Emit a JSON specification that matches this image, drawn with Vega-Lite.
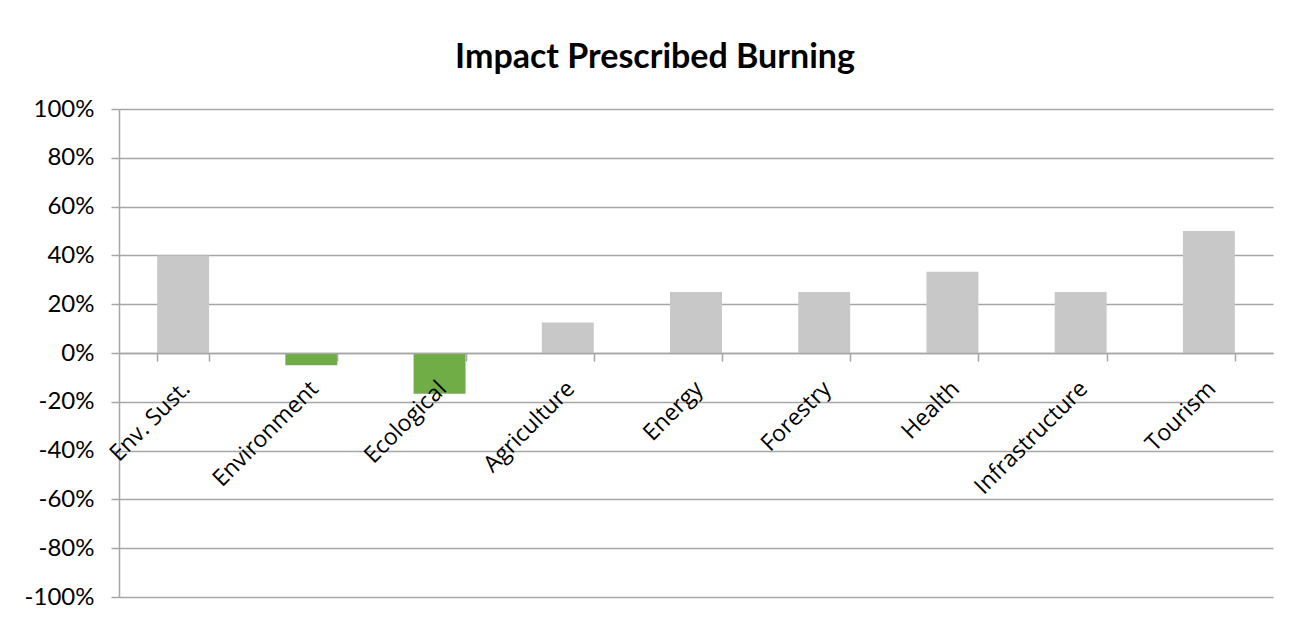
{
  "$schema": "https://vega.github.io/schema/vega-lite/v6.json",
  "width": 1154,
  "height": 488,
  "autosize": {"type": "none"},
  "padding": {"left": 119, "top": 109, "right": 35, "bottom": 21},
  "background": "white",
  "title": {
    "text": "Impact Prescribed Burning",
    "font": "Lato",
    "fontSize": 34,
    "fontWeight": "bold",
    "color": "#000000",
    "anchor": "middle",
    "dx": -41,
    "baseline": "alphabetic",
    "offset": -5
  },
  "data": {
    "values": [
      {"sector": "Env. Sust.", "impact": 0.40},
      {"sector": "Environment", "impact": -0.05},
      {"sector": "Ecological", "impact": -0.1667},
      {"sector": "Agriculture", "impact": 0.125},
      {"sector": "Energy", "impact": 0.25},
      {"sector": "Forestry", "impact": 0.25},
      {"sector": "Health", "impact": 0.3333},
      {"sector": "Infrastructure", "impact": 0.25},
      {"sector": "Tourism", "impact": 0.50}
    ]
  },
  "mark": {"type": "bar"},
  "encoding": {
    "x": {
      "field": "sector",
      "type": "nominal",
      "sort": null,
      "scale": {"paddingInner": 0.595, "paddingOuter": 0.2975},
      "axis": {
        "title": null,
        "offset": -244,
        "zindex": 1,
        "grid": false,
        "domainColor": "#a6a6a6",
        "domainWidth": 1.5,
        "tickColor": "#a6a6a6",
        "tickWidth": 1.5,
        "tickSize": 8,
        "tickBand": "extent",
        "labelAngle": -45,
        "labelAlign": "right",
        "labelBaseline": "top",
        "labelPadding": 16,
        "labelOffset": -5,
        "labelFont": "Open Sans",
        "labelFontSize": 23,
        "labelColor": "#000000",
        "labelOverlap": false
      }
    },
    "y": {
      "field": "impact",
      "type": "quantitative",
      "scale": {"domain": [-1, 1], "nice": false},
      "axis": {
        "title": null,
        "values": [-1, -0.8, -0.6, -0.4, -0.2, 0, 0.2, 0.4, 0.6, 0.8, 1],
        "labelExpr": "replace(format(datum.value, '.0%'), '\u2212', '-')",
        "grid": true,
        "gridColor": "#a6a6a6",
        "gridWidth": 1.5,
        "domainColor": "#a6a6a6",
        "domainWidth": 1.5,
        "tickColor": "#a6a6a6",
        "tickWidth": 1.5,
        "tickSize": 8,
        "labelPadding": 17,
        "labelFont": "Lato",
        "labelFontSize": 24,
        "labelColor": "#000000"
      }
    },
    "color": {
      "condition": {"test": "datum.impact < 0", "value": "#70ad47"},
      "value": "#c8c8c8"
    }
  },
  "config": {
    "view": {"stroke": null}
  }
}
